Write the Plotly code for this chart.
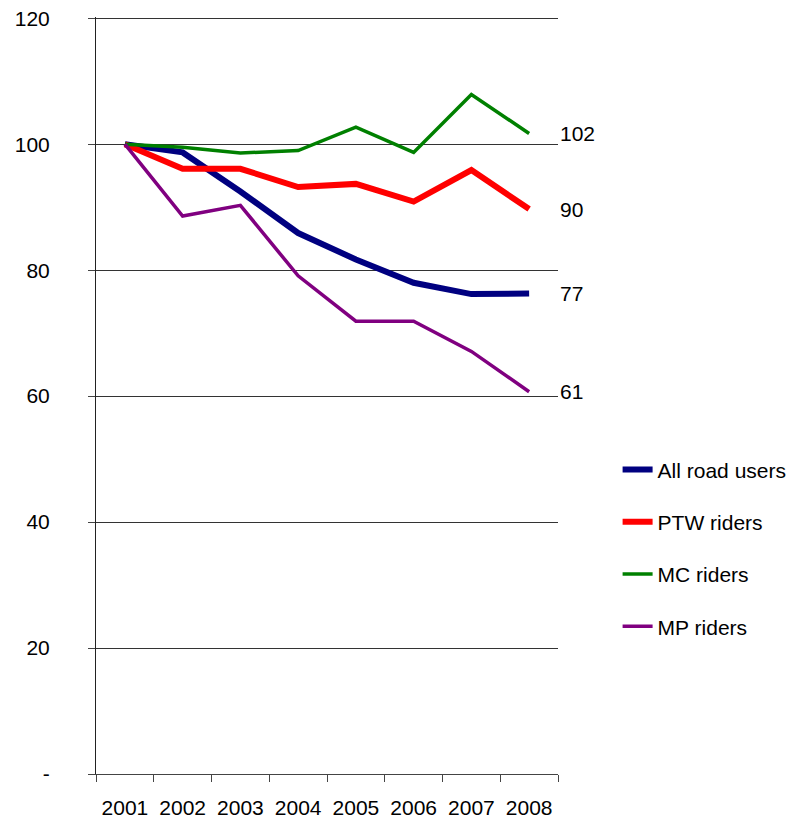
import plotly.graph_objects as go

# Index, 2001 = 100
years = ["2001", "2002", "2003", "2004", "2005", "2006", "2007", "2008"]
all_road_users = [100, 98.7, 92.5, 85.9, 81.7, 78.0, 76.2, 76.3]
ptw_riders = [100, 96.1, 96.1, 93.2, 93.7, 90.9, 95.9, 89.7]
mc_riders = [100, 99.5, 98.6, 99.0, 102.7, 98.7, 107.9, 101.7]
mp_riders = [100, 88.6, 90.3, 79.1, 71.9, 71.9, 67.1, 60.7]

series_names = ["All road users", "PTW riders", "MC riders", "MP riders"]
end_labels = ["77", "90", "102", "61"]
y_ticks = [0, 20, 40, 60, 80, 100, 120]
y_ticktext = ["-", "20", "40", "60", "80", "100", "120"]

series = [all_road_users, ptw_riders, mc_riders, mp_riders]
colors = ["#000080", "#ff0000", "#008000", "#800080"]
widths = [6, 6, 3.5, 3.5]

FONT = "Liberation Sans, Arial, sans-serif"

fig = go.Figure()

for name, vals, col, w in zip(series_names, series, colors, widths):
    fig.add_trace(go.Scatter(
        x=years, y=vals, name=name, mode="lines",
        line=dict(color=col, width=w),
        legendgroup=name,
    ))

# value labels at the end of each line
for vals, lab in zip(series, end_labels):
    fig.add_annotation(
        x=7.5, y=vals[-1], xref="x", yref="y",
        text=lab, showarrow=False, xanchor="left", xshift=0,
        font=dict(size=21, color="black", family=FONT),
    )

fig.update_layout(
    width=803, height=824,
    margin=dict(l=88, r=253, t=9, b=58, autoexpand=False),
    plot_bgcolor="white",
    paper_bgcolor="white",
    font=dict(family=FONT, size=21, color="black"),
    showlegend=True,
    legend=dict(
        x=1.129, y=0.429, xanchor="left", yanchor="top",
        font=dict(size=21),
        tracegroupgap=22,
        bgcolor="rgba(0,0,0,0)",
    ),
)

fig.update_xaxes(
    type="category",
    range=[-0.5, 7.5],
    tickson="boundaries",
    ticks="outside", ticklen=7, tickcolor="#444444", tickwidth=1,
    showline=True, linecolor="#444444", linewidth=1,
    showgrid=False,
    tickfont=dict(size=21),
    ticklabelstandoff=15,
    automargin=False,
)

fig.update_yaxes(
    range=[0, 120.2],
    tickvals=y_ticks, ticktext=y_ticktext,
    ticks="outside", ticklen=7, tickcolor="#444444", tickwidth=1,
    showline=True, linecolor="#222222", linewidth=1,
    showgrid=True, gridcolor="#333333", gridwidth=1,
    zeroline=False,
    tickfont=dict(size=21),
    ticklabelstandoff=34,
    ticklabeloverflow="allow",
    automargin=False,
)

fig.write_html("out.html")
